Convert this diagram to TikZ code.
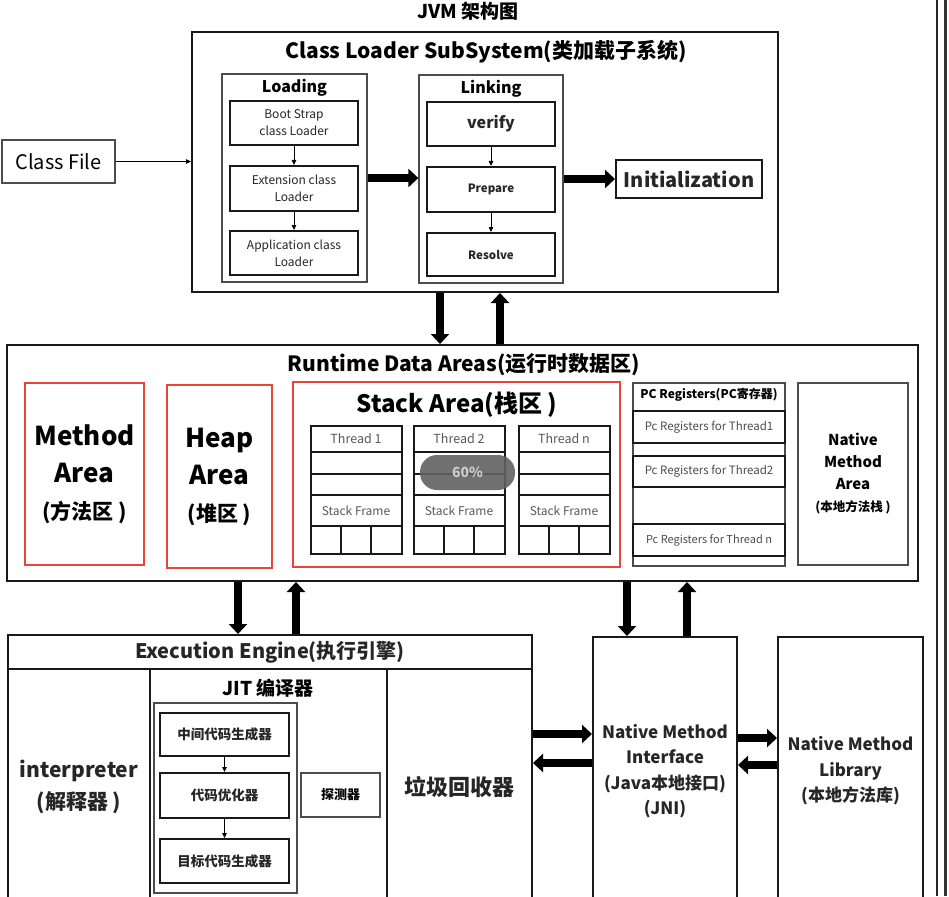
\documentclass[tikz,border=0pt]{standalone}
\usepackage{fontspec}
\setmainfont{Noto Sans CJK SC}
\usepackage{tikz}
\usetikzlibrary{arrows.meta}

\definecolor{rosso}{HTML}{E8443A}
\newcommand{\fsz}[2]{\fontsize{#1}{#2}\selectfont}

\tikzset{
  box/.style={draw=black!90, line width=2pt, inner sep=0pt, align=center, text=black!85},
  panel/.style={draw=black!70, line width=1.3pt, inner sep=0pt, align=center},
  redbox/.style={draw=rosso, line width=1.2pt, inner sep=0pt, align=center},
  cell/.style={draw=black!90, line width=2pt, inner sep=0pt, minimum width=91pt, text=black!65, font=\fsz{12.5}{15}},
  bigarrow/.style={line width=8pt, -{Triangle[length=10pt,width=18pt]}},
  smallarrow/.style={line width=0.8pt, -{Triangle[length=5pt,width=4.5pt]}},
}

\begin{document}
\begin{tikzpicture}[x=1pt, y=-1pt]
    \useasboundingbox (0,0) rectangle (949,896);
    \clip (0,0) rectangle (949,896);
    \fill[white] (0,0) rectangle (949,896);

    % Titolo
    \node[font=\fsz{19}{23}\bfseries] (titolo) at (468,11) {JVM 架构图};

    % Class Loader SubSystem
    \node[box, minimum width=586pt, minimum height=260pt] (cls) at (485,162) {};
    \node[font=\fsz{21}{25}\bfseries] (clstitolo) at (486,52) {Class Loader SubSystem(类加载子系统)};
    \node[panel, minimum width=113pt, minimum height=43pt, font=\fsz{20}{24}] (classfile) at (58.5,161.5) {Class File};
    \draw[smallarrow] (classfile) -- (classfile -| cls.west);

    % Loading
    \node[panel, minimum width=145pt, minimum height=208pt] (loading) at (294.5,178) {};
    \node[font=\fsz{16}{19}\bfseries] (loadtitolo) at (294.5,88) {Loading};
    \node[box, minimum width=128pt, minimum height=44pt, font=\fsz{12}{17}] (boot) at (294,123) {Boot Strap\\class Loader};
    \node[box, minimum width=128pt, minimum height=45pt, font=\fsz{12}{17}] (ext) at (294,188.5) {Extension class\\Loader};
    \node[box, minimum width=128pt, minimum height=44pt, font=\fsz{12}{17}] (app) at (294,253) {Application class\\Loader};
    \draw[smallarrow] (boot) -- (ext);
    \draw[smallarrow] (ext) -- (app);

    % Linking
    \node[panel, minimum width=144pt, minimum height=208pt] (linking) at (491,179) {};
    \node[font=\fsz{16}{19}\bfseries] (linktitolo) at (491,89) {Linking};
    \node[box, minimum width=128pt, minimum height=44pt, font=\fsz{16}{19}\bfseries] (verify) at (491,124) {verify};
    \node[box, minimum width=128pt, minimum height=45pt, font=\fsz{11.5}{14}\bfseries] (prepare) at (491,189.5) {Prepare};
    \node[box, minimum width=128pt, minimum height=43pt, font=\fsz{11.5}{14}\bfseries] (resolve) at (491,254.5) {Resolve};
    \draw[smallarrow] (verify) -- (prepare);
    \draw[smallarrow] (prepare) -- (resolve);

    % Initialization
    \node[box, minimum width=146pt, minimum height=38pt, font=\fsz{20}{24}\bfseries] (init) at (689,179) {Initialization};
    \draw[bigarrow] (loading.east) -- (loading.east -| linking.west);
    \draw[bigarrow] (linking.east |- init) -- (init);

    % Runtime Data Areas
    \node[box, minimum width=911pt, minimum height=236pt] (rda) at (462.5,463) {};
    \node[font=\fsz{21}{25}\bfseries] (rdatitolo) at (464,365) {Runtime Data Areas(运行时数据区)};
    \draw[bigarrow] ([xshift=-45pt]cls.south) -- ([xshift=-45pt]cls.south |- rda.north);
    \draw[bigarrow] ([xshift=15pt]cls.south |- rda.north) -- ([xshift=15pt]cls.south);

    \node[redbox, minimum width=119pt, minimum height=182pt, font=\fsz{26}{37}\bfseries] (method) at (84.5,474)
      {Method\\Area\\{\fsz{21}{37}(方法区 )}};
    \node[redbox, minimum width=105pt, minimum height=183pt, font=\fsz{26}{37}\bfseries] (heap) at (219.5,476.5)
      {Heap\\Area\\{\fsz{21}{37}(堆区 )}};

    % Stack Area
    \node[redbox, line width=2.5pt, minimum width=327pt, minimum height=185pt] (stack) at (456.5,474.5) {};
    \node[font=\fsz{24}{28}\bfseries] (stacktitolo) at (457,405) {Stack Area(栈区 )};
    \foreach \cx/\nm/\lab in {356/ta/Thread 1, 459/tb/Thread 2, 564/tn/Thread n} {
      \node[cell, minimum height=26pt] (\nm h) at (\cx,439) {\lab};
      \node[cell, minimum height=22pt] (\nm a) at (\cx,463) {};
      \node[cell, minimum height=21pt] (\nm b) at (\cx,484.5) {};
      \node[cell, minimum height=31pt, font=\fsz{12}{14}] (\nm f) at (\cx,510.5) {Stack Frame};
      \foreach \k in {-1,0,1}
        \node[cell, minimum width=30.33pt, minimum height=28pt] (\nm c\k) at (\cx+\k*30.33,540) {};
    }
    \node[fill=black!62, fill opacity=0.9, text opacity=1, text=white!80!black, rounded corners=17pt,
      minimum width=95pt, minimum height=35pt, font=\fsz{14}{16}\bfseries] (pct) at (467.5,472.5) {60\%};

    % PC Registers
    \node[panel, minimum width=152pt, minimum height=183pt] (pc) at (709,474.5) {};
    \node[font=\fsz{12}{14}\bfseries] (pctitolo) at (709,395) {PC Registers(PC寄存器)};
    \node[box, line width=2.5pt, minimum width=152pt, minimum height=32pt, text=black!70, font=\fsz{11.5}{14}] (pca) at (709,427) {Pc Registers for Thread1};
    \node[box, line width=2.5pt, minimum width=152pt, minimum height=31pt, text=black!70, font=\fsz{11.5}{14}] (pcb) at (709,471.5) {Pc Registers for Thread2};
    \node[box, line width=2.5pt, minimum width=152pt, minimum height=32pt, text=black!70, font=\fsz{11}{14}] (pcn) at (709,540) {Pc Registers for Thread n};

    % Native Method Area
    \node[panel, minimum width=110pt, minimum height=182pt, font=\fsz{15}{22}\bfseries] (nma) at (853,474)
      {Native\\Method\\Area\\{\fsz{12.5}{24}(本地方法栈 )}};

    % Execution Engine
    \node[box, minimum width=524pt, minimum height=34pt, font=\fsz{20}{24}\bfseries] (exehead) at (270,652) {Execution Engine(执行引擎)};
    \node[box, minimum width=142pt, minimum height=236pt, font=\fsz{21}{32}\bfseries] (interp) at (79,787) {interpreter\\(解释器 )};
    \node[box, minimum width=237pt, minimum height=236pt] (jit) at (268.5,787) {};
    \node[box, minimum width=145pt, minimum height=236pt, font=\fsz{22}{26}\bfseries] (gc) at (459.5,787) {垃圾回收器};
    \draw[bigarrow] ([xshift=-32pt]exehead.north |- rda.south) -- ([xshift=-32pt]exehead.north);
    \draw[bigarrow] ([xshift=26pt]exehead.north) -- ([xshift=26pt]exehead.north |- rda.south);

    % JIT
    \node[font=\fsz{19}{22}\bfseries] (jittitolo) at (268,688) {JIT 编译器};
    \node[panel, minimum width=143pt, minimum height=190pt] (jitin) at (225.5,798) {};
    \node[box, minimum width=129pt, minimum height=43pt, font=\fsz{13.5}{16}\bfseries] (mid) at (224.5,734.5) {中间代码生成器};
    \node[box, minimum width=129pt, minimum height=45pt, font=\fsz{13.5}{16}\bfseries] (opt) at (224.5,795.5) {代码优化器};
    \node[box, minimum width=129pt, minimum height=44pt, font=\fsz{13.5}{16}\bfseries] (tgt) at (224.5,861) {目标代码生成器};
    \node[panel, minimum width=79pt, minimum height=44pt, font=\fsz{13}{16}\bfseries] (probe) at (340.5,795) {探测器};
    \draw[smallarrow] (mid) -- (opt);
    \draw[smallarrow] (opt) -- (tgt);

    % JNI e Library
    \node[box, minimum width=144pt, minimum height=268pt, font=\fsz{17}{25.5}\bfseries] (jni) at (665,771)
      {Native Method\\Interface\\(Java本地接口)\\(JNI)};
    \node[box, minimum width=145pt, minimum height=268pt, font=\fsz{17}{25.5}\bfseries] (nml) at (850.5,771)
      {Native Method\\Library\\(本地方法库)};
    \draw[bigarrow] ([xshift=-38pt]jni.north |- rda.south) -- ([xshift=-38pt]jni.north);
    \draw[bigarrow] ([xshift=22pt]jni.north) -- ([xshift=22pt]jni.north |- rda.south);
    \draw[bigarrow] ([yshift=53pt]gc.east) -- ([yshift=53pt]gc.east -| jni.west);
    \draw[bigarrow] ([yshift=24pt]gc.east -| jni.west) -- ([yshift=24pt]gc.east);
    \draw[bigarrow] ([yshift=33pt]jni.east) -- ([yshift=33pt]jni.east -| nml.west);
    \draw[bigarrow] ([yshift=6pt]jni.east -| nml.west) -- ([yshift=6pt]jni.east);

    % Bordo destro
    \draw[line width=1.5pt, black!85] (937,0) -- (937,896);
    \draw[line width=3pt, black!80] (945.5,0) -- (945.5,896);
\end{tikzpicture}
\end{document}
